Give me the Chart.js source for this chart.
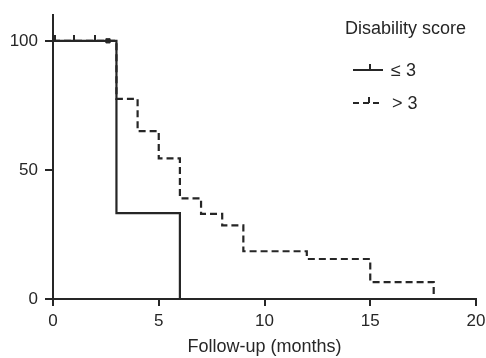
<!DOCTYPE html>
<html>
<head>
<meta charset="utf-8">
<script src="https://cdn.jsdelivr.net/npm/chart.js@4"></script>
<style>
  html, body { margin: 0; padding: 0; background: #fff; }
  #wrap { width: 486px; height: 358px; }
</style>
</head>
<body>
<div id="wrap"><canvas id="km"></canvas></div>
<script>
// Kaplan-Meier data (months, % event-free)
const lowTimes = [0, 3, 6];
const lowSurv = [100, 33.3, 0];
const highTimes = [0, 3, 4, 5, 6, 7, 8, 9, 12, 15, 18];
const highSurv = [100, 77.5, 65, 54.5, 39, 33, 28.5, 18.5, 15.5, 6.5, 0];
const lowCensored = [0.1, 1, 2];
const highCensored = [2.6];
const xTicks = [0, 5, 10, 15, 20];
const yTicks = [0, 50, 100];

const ink = '#262626';
const font = 'Liberation Sans, Arial, Helvetica, sans-serif';

function pts(xs, ys) {
  return xs.map((x, i) => ({ x: x, y: ys[i] }));
}

// censor tick: small vertical stroke sitting on top of the curve
const censorMark = document.createElement('canvas');
censorMark.width = 2;
censorMark.height = 12;
(function () {
  const c = censorMark.getContext('2d');
  c.fillStyle = ink;
  c.fillRect(0, 0, 2, 6);
})();

// legend + small axis extension drawn on top
const legendPlugin = {
  id: 'kmLegend',
  afterDraw(chart) {
    const ctx = chart.ctx;
    const xs = chart.scales.x, ys = chart.scales.y;
    ctx.save();
    ctx.strokeStyle = ink;
    ctx.lineWidth = 2;
    // x axis runs a little left of the y axis
    ctx.beginPath();
    ctx.moveTo(xs.left - 8, ys.bottom);
    ctx.lineTo(xs.left, ys.bottom);
    ctx.stroke();

    ctx.fillStyle = ink;
    ctx.font = '18px ' + font;
    ctx.textBaseline = 'middle';
    ctx.fillText('Disability score', 345, 29);

    // solid entry
    ctx.beginPath();
    ctx.moveTo(353, 70); ctx.lineTo(383, 70);
    ctx.moveTo(370, 70); ctx.lineTo(370, 64);
    ctx.stroke();
    ctx.fillText('\u2264 3', 391, 71);

    // dashed entry
    ctx.setLineDash([6, 4]);
    ctx.beginPath();
    ctx.moveTo(353, 103); ctx.lineTo(383, 103);
    ctx.stroke();
    ctx.setLineDash([]);
    ctx.beginPath();
    ctx.moveTo(369, 103); ctx.lineTo(369, 97);
    ctx.stroke();
    ctx.fillText('> 3', 392, 104);
    ctx.restore();
  }
};

const ctx = document.getElementById('km').getContext('2d');
new Chart(ctx, {
  type: 'scatter',
  data: {
    datasets: [
      {
        label: '> 3',
        data: pts(highTimes, highSurv),
        showLine: true,
        stepped: 'before',
        borderColor: ink,
        borderWidth: 2.2,
        borderDash: [7, 4],
        pointRadius: 0,
      },
      {
        label: '\u2264 3',
        data: pts(lowTimes, lowSurv),
        showLine: true,
        stepped: 'before',
        borderColor: ink,
        borderWidth: 2.2,
        pointRadius: 0,
      },
      {
        label: 'censored low',
        data: lowCensored.map((x) => ({ x: x, y: 100 })),
        pointStyle: censorMark,
        pointRadius: 3,
      },
      {
        label: 'censored high',
        data: highCensored.map((x) => ({ x: x, y: 100 })),
        pointStyle: 'rect',
        pointRadius: 3,
        backgroundColor: ink,
        borderColor: ink,
      },
    ],
  },
  options: {
    responsive: true,
    maintainAspectRatio: false,
    animation: false,
    layout: { padding: { top: 15, right: 10, left: 0, bottom: 0 } },
    plugins: {
      legend: { display: false },
      tooltip: { enabled: false },
    },
    scales: {
      x: {
        type: 'linear',
        min: 0,
        max: 20,
        afterBuildTicks: (s) => { s.ticks = xTicks.map((v) => ({ value: v })); },
        afterFit: (s) => { s.height = 59; s.paddingLeft = 0; s.paddingRight = 0; },
        grid: {
          drawOnChartArea: false,
          drawTicks: true,
          tickLength: 7,
          color: ink,
          lineWidth: 2,
        },
        border: { color: ink, width: 2 },
        ticks: { color: ink, font: { size: 17, family: font }, padding: 5, maxRotation: 0 },
        title: {
          display: true,
          text: 'Follow-up (months)',
          color: ink,
          font: { size: 18, family: font },
          padding: { top: 0, bottom: 0 },
        },
      },
      y: {
        type: 'linear',
        min: 0,
        max: 110,
        afterBuildTicks: (s) => { s.ticks = yTicks.map((v) => ({ value: v })); },
        afterFit: (s) => { s.width = 53; s.paddingTop = 0; s.paddingBottom = 0; },
        grid: {
          drawOnChartArea: false,
          drawTicks: true,
          tickLength: 8,
          color: ink,
          lineWidth: 2,
        },
        border: { color: ink, width: 2 },
        ticks: { color: ink, font: { size: 17, family: font }, padding: 7 },
      },
    },
  },
  plugins: [legendPlugin],
});
</script>
</body>
</html>
